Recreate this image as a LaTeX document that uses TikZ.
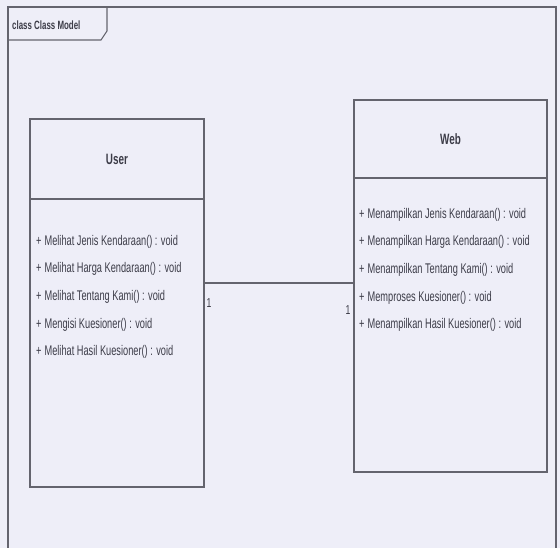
\documentclass[tikz,border=0pt]{standalone}
\usepackage{fontspec}
\newfontfamily\umlfont[FakeStretch=0.66]{Liberation Sans}
\definecolor{bgc}{RGB}{238,238,248}
\definecolor{linegray}{RGB}{100,100,110}
\definecolor{textc}{RGB}{60,60,72}
\begin{document}
\begin{tikzpicture}[x=1pt,y=-1pt,
  ln/.style={draw=linegray, line width=1.1pt},
  clsbox/.style={ln, fill=bgc, anchor=north west, inner sep=0pt, outer sep=0pt},
  mtext/.style={text=textc, anchor=north west, inner sep=0pt, align=left,
    font=\umlfont\fontsize{14}{27.6}\selectfont},
  hdr/.style={text=textc, font=\umlfont\bfseries\fontsize{15}{17}\selectfont},
  mult/.style={text=textc, font=\umlfont\fontsize{13}{15}\selectfont, inner sep=0pt}]
\useasboundingbox (0,0) rectangle (560,548);
\fill[bgc] (0,0) rectangle (560,548);
\clip (0,0) rectangle (560,548);
% frame
\draw[ln] (8,7) rectangle (556,570);
\draw[ln] (8,40) -- (101,40) -- (107,31) -- (107,7);
\node[anchor=west, inner sep=0pt, text=textc, font=\umlfont\bfseries\fontsize{12}{14}\selectfont] (title) at (12,25) {class Class Model};
% User class
\node[clsbox, minimum width=174pt, minimum height=80pt] (uh) at (30,119) {};
\node[clsbox, minimum width=174pt, minimum height=288pt] (ub) at (30,199) {};
\node[hdr] (ut) at (uh.center) {User};
\node[mtext] (um) at (36,235) {+\hspace{3pt}Melihat Jenis Kendaraan() : void\\
+\hspace{3pt}Melihat Harga Kendaraan() : void\\
+\hspace{3pt}Melihat Tentang Kami() : void\\
+\hspace{3pt}Mengisi Kuesioner() : void\\
+\hspace{3pt}Melihat Hasil Kuesioner() : void};
% Web class
\node[clsbox, minimum width=193pt, minimum height=78pt] (wh) at (354,100) {};
\node[clsbox, minimum width=193pt, minimum height=294pt] (wb) at (354,178) {};
\node[hdr] (wt) at (wh.center) {Web};
\node[mtext] (wm) at (359,208) {+\hspace{3pt}Menampilkan Jenis Kendaraan() : void\\
+\hspace{3pt}Menampilkan Harga Kendaraan() : void\\
+\hspace{3pt}Menampilkan Tentang Kami() : void\\
+\hspace{3pt}Memproses Kuesioner() : void\\
+\hspace{3pt}Menampilkan Hasil Kuesioner() : void};
% association
\coordinate (cy) at (280,283);
\draw[ln] (ub.east |- cy) -- (wb.west |- cy);
\node[mult] (m1) at (209,303) {1};
\node[mult] (m2) at (348,310) {1};
\end{tikzpicture}
\end{document}
